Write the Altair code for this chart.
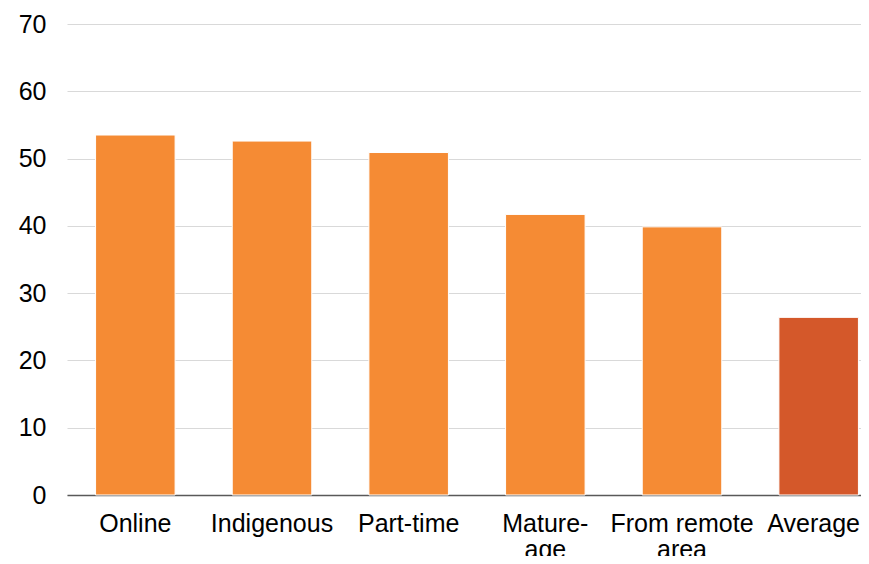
import altair as alt
import pandas as pd

categories = ["Online", "Indigenous", "Part-time", "Mature-age", "From remote area", "Average"]
values = [53.5, 52.6, 50.9, 41.7, 39.85, 26.4]
groups = ["group", "group", "group", "group", "group", "average"]
y_ticks = [0, 10, 20, 30, 40, 50, 60, 70]

df = pd.DataFrame({"category": categories, "value": values, "group": groups})

label_expr = (
    "datum.label == 'Mature-age' ? ['Mature-', 'age'] : "
    "datum.label == 'From remote area' ? ['From remote', 'area'] : datum.label"
)

chart = (
    alt.Chart(df)
    .mark_bar(stroke="white", strokeWidth=1)
    .encode(
        x=alt.X(
            "category:N",
            sort=categories,
            title=None,
            scale=alt.Scale(range=[0, 820], paddingInner=0.418, paddingOuter=0.209),
            axis=alt.Axis(
                labelAngle=0,
                labelExpr=label_expr,
                labelFont="Liberation Sans",
                labelFontSize=25,
                labelColor="#000000",
                labelPadding=16,
                labelLineHeight=26,
                labelBaseline="top",
                labelOffset=alt.condition(
                    "datum.value == 'Average'", alt.value(-5), alt.value(0)
                ),
                ticks=False,
                domainColor="#595959",
                domainWidth=1.5,
                grid=False,
                labelOverlap=False,
                labelLimit=0,
            ),
        ),
        y=alt.Y(
            "value:Q",
            title=None,
            scale=alt.Scale(domain=[0, 70], nice=False),
            axis=alt.Axis(
                values=y_ticks,
                labelFont="Liberation Sans",
                labelFontSize=25,
                labelColor="#000000",
                labelPadding=21,
                ticks=False,
                domain=False,
                gridColor="#d9d9d9",
                gridWidth=1,
            ),
        ),
        color=alt.Color(
            "group:N",
            scale=alt.Scale(domain=["group", "average"], range=["#F58B34", "#D4582A"]),
            legend=None,
        ),
    )
    .properties(
        width=794,
        height=471,
        background="white",
        autosize=alt.AutoSizeParams(type="none"),
        padding={"left": 59, "top": 16, "right": 0, "bottom": 61},
    )
    .configure_view(stroke=None, strokeWidth=0)
)

chart.save("out.html", embed_options={"renderer": "svg", "actions": False})
